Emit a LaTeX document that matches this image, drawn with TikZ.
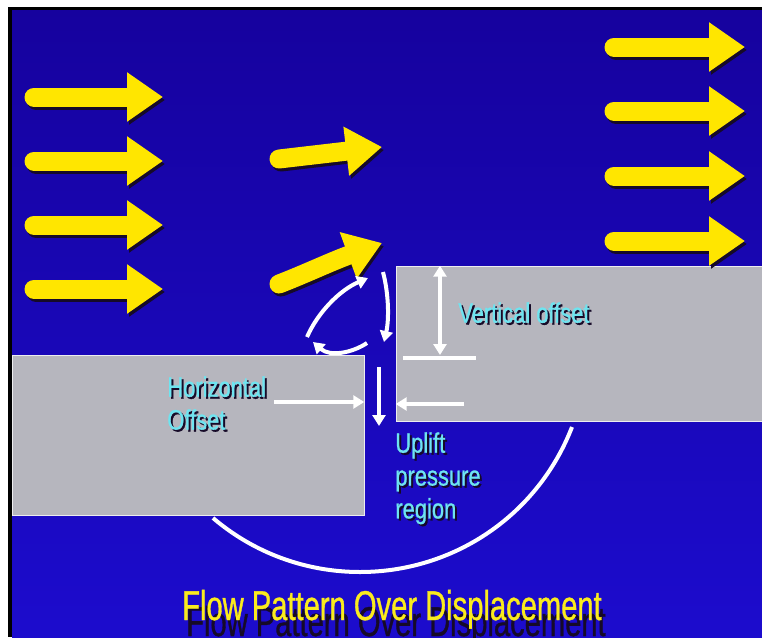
\documentclass[tikz,border=0pt]{standalone}
\usepackage{fontspec}
\setmainfont{Liberation Sans}
\newfontfamily\labelsans[FakeStretch=0.78, FakeBold=0.8]{Liberation Sans}
\newfontfamily\titlesans[FakeStretch=0.70, FakeBold=0.8]{Liberation Sans}
\usetikzlibrary{arrows.meta, positioning, fit}
\definecolor{SlideBlue}{RGB}{22,2,158}
\definecolor{SlideBlueLow}{RGB}{28,12,205}
\definecolor{FlowYellow}{RGB}{255,230,0}
\definecolor{TitleYellow}{RGB}{250,235,30}
\definecolor{BlockGrey}{RGB}{182,182,190}
\definecolor{LabelCyan}{RGB}{110,228,240}
\definecolor{ShadowDark}{RGB}{22,10,40}

\begin{document}
\begin{tikzpicture}[
  x=0.02cm, y=-0.02cm,
  flow/.style={line width=0.38cm, FlowYellow, line cap=round,
               -{Triangle[length=0.72cm, width=0.94cm]}},
  flowshadow/.style={flow, ShadowDark},
  block/.style={fill=BlockGrey, draw=white!75!BlockGrey, line width=0.3pt,
                inner sep=0pt},
  wire/.style={white, line width=0.08cm,
               -{Triangle[length=0.22cm, width=0.26cm]}},
  lbl/.style={font=\labelsans\fontsize{16}{18.7}\selectfont, LabelCyan,
              anchor=north west, inner sep=0pt, align=left},
  lblshadow/.style={lbl, ShadowDark},
]
\useasboundingbox (0,0) rectangle (762,637);

% slide frame and background
\fill[white] (0,0) rectangle (762,637);
\fill[black] (8,7) rectangle (762,637);
\shade[top color=SlideBlue, bottom color=SlideBlueLow] (12,10) rectangle (762,637);

% the two offset blocks
\node[block, fit={(396,266) (762,421)}] (upblock) {};
\node[block, fit={(12,355) (364,515)}] (lowblock) {};

% oncoming flow (left), flow over the step (right)
\foreach \y in {97,161,225,289} {
  \draw[flowshadow, shift={(2,3)}] (34,\y) -- (163,\y);
  \draw[flow] (34,\y) -- (163,\y);
}
\foreach \y in {47,111,176,241} {
  \draw[flowshadow, shift={(2,3)}] (614,\y) -- (745,\y);
  \draw[flow] (614,\y) -- (745,\y);
}

% deflected flow near the step
\draw[flowshadow, shift={(2,3)}] (279,159) -- (382,147);
\draw[flow] (279,159) -- (382,147);
\draw[flowshadow, shift={(2,3)}] (279,284) .. controls (305,274) and (330,262) .. (382,243);
\draw[flow] (279,284) .. controls (305,274) and (330,262) .. (382,243);

% recirculation in the gap
\coordinate (loopA) at (307,337);
\coordinate (loopB) at (368,278);
\coordinate (dropA) at (383,272);
\coordinate (dropB) at (384,342);
\coordinate (curlA) at (367,343);
\coordinate (curlB) at (313,342);
\coordinate (gapA) at (379,367);
\coordinate (gapB) at (379,426);
\draw[wire] (loopA) .. controls (318,312) and (340,290) .. (loopB);
\draw[wire] (dropA) .. controls (389,295) and (389,320) .. (dropB);
\draw[wire] (curlA) .. controls (352,353) and (330,357) .. (curlB);
\draw[wire] (gapA) -- (gapB);

% offsets
\coordinate (hofsL) at (274,402);
\coordinate (hofsR) at (464,404);
\draw[wire] (hofsL) -- (hofsL -| lowblock.east);
\draw[wire] (hofsR) -- (hofsR -| upblock.west);
\coordinate (vofs) at (440,355);
\coordinate (vbarL) at (403,358);
\coordinate (vbarR) at (476,358);
\draw[wire, {Triangle[length=0.22cm, width=0.26cm]}-{Triangle[length=0.22cm, width=0.26cm]}]
  (vofs |- upblock.north) -- (vofs);
\draw[white, line width=0.08cm] (vbarL) -- (vbarR);

% flow under the lower block
\coordinate (arcL) at (213,518);
\coordinate (arcM) at (360,572);
\coordinate (arcR) at (572,427);
\draw[white, line width=0.08cm] (arcL) .. controls (254,553) and (306,572) .. (arcM)
  .. controls (454,572) and (538,515) .. (arcR);

% labels
\node[lblshadow] at (460,304) {Vertical offset};
\node[lbl] (vlbl) at (458,302) {Vertical offset};
\node[lblshadow] at (169,378) {Horizontal\\Offset};
\node[lbl] (hlbl) at (167,376) {Horizontal\\Offset};
\node[lblshadow] at (397,434) {Uplift\\pressure\\region};
\node[lbl] (ulbl) at (395,432) {Uplift\\pressure\\region};

% title
\node[font=\titlesans\fontsize{23.7}{28}\selectfont, ShadowDark, anchor=base]
  at (396,636) {Flow Pattern Over Displacement};
\node[font=\titlesans\fontsize{23.7}{28}\selectfont, TitleYellow, anchor=base]
  (title) at (392,620) {Flow Pattern Over Displacement};

\end{tikzpicture}
\end{document}
